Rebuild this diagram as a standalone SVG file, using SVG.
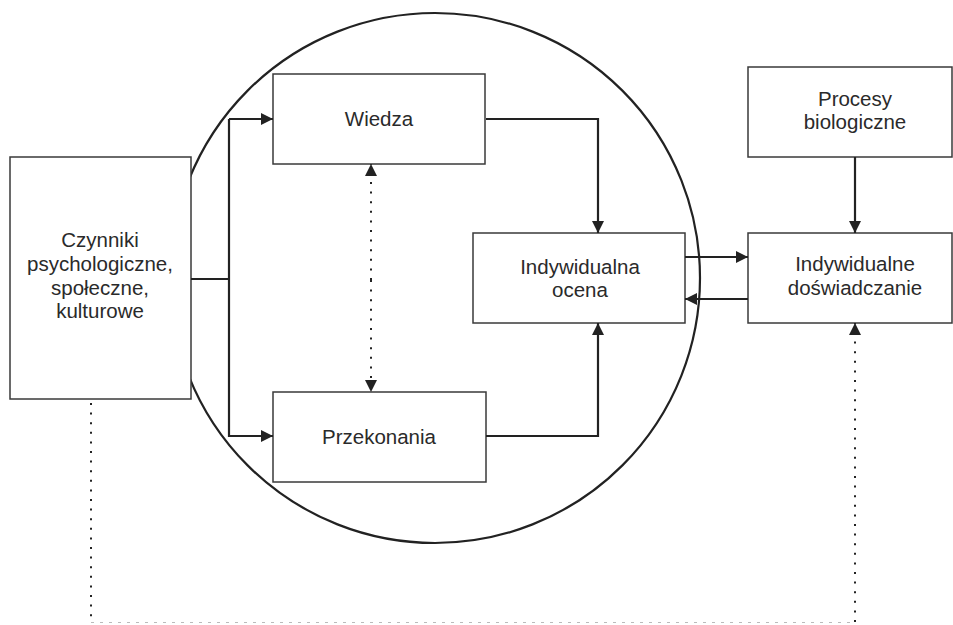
<svg xmlns="http://www.w3.org/2000/svg" width="953" height="625" viewBox="0 0 953 625">
<style>
.box{fill:#fff;stroke:#3a3a3a;stroke-width:1.5}
.lbl{font-family:"Liberation Sans",Arial,sans-serif;font-size:20.5px;fill:#2a2a2a;text-anchor:middle}
.ln{fill:none;stroke:#222;stroke-width:2.2}
.dot{fill:none;stroke:#222;stroke-width:2;stroke-dasharray:2 7.6}
.dotl{fill:none;stroke:#bbb;stroke-width:1.2;stroke-dasharray:3 6}
</style>
<defs>
<marker id="ah" markerUnits="userSpaceOnUse" markerWidth="14" markerHeight="14" refX="12" refY="6" orient="auto">
<path d="M0,0 L12,6 L0,12 Z" fill="#222"/>
</marker>
</defs>
<rect width="953" height="625" fill="#fff"/>
<circle cx="435" cy="278" r="265" fill="none" stroke="#222" stroke-width="2.2"/>
<g id="czynniki">
<rect class="box" x="10" y="157" width="181" height="242"/>
<text class="lbl"><tspan x="100" y="247">Czynniki</tspan><tspan x="100" y="271">psychologiczne,</tspan><tspan x="100" y="295">społeczne,</tspan><tspan x="100" y="318">kulturowe</tspan></text>
</g>
<g id="wiedza">
<rect class="box" x="273" y="74" width="212" height="90"/>
<text class="lbl" x="379" y="126">Wiedza</text>
</g>
<g id="przekonania">
<rect class="box" x="273" y="392" width="213" height="90"/>
<text class="lbl" x="379" y="444">Przekonania</text>
</g>
<g id="ocena">
<rect class="box" x="473" y="233" width="212" height="90"/>
<text class="lbl"><tspan x="580" y="274">Indywidualna</tspan><tspan x="580" y="297">ocena</tspan></text>
</g>
<g id="procesy">
<rect class="box" x="748" y="67" width="204" height="90"/>
<text class="lbl"><tspan x="855" y="106">Procesy</tspan><tspan x="855" y="129">biologiczne</tspan></text>
</g>
<g id="doswiadczanie">
<rect class="box" x="748" y="233" width="204" height="90"/>
<text class="lbl"><tspan x="855" y="271">Indywidualne</tspan><tspan x="855" y="295">doświadczanie</tspan></text>
</g>
<g id="connectors">
<path class="ln" d="M191,279 H229"/>
<path class="ln" d="M229,119 V437"/>
<path class="ln" d="M229,119 H273" marker-end="url(#ah)"/>
<path class="ln" d="M229,436 H273" marker-end="url(#ah)"/>
<path class="ln" d="M486,119 H598 V233" marker-end="url(#ah)"/>
<path class="ln" d="M486,436 H598 V323" marker-end="url(#ah)"/>
<path class="ln" d="M685,257 H748" marker-end="url(#ah)"/>
<path class="ln" d="M748,299 H685" marker-end="url(#ah)"/>
<path class="ln" d="M855,157 V233" marker-end="url(#ah)"/>
<path class="dot" d="M371,280 V164" marker-end="url(#ah)"/>
<path class="dot" d="M371,280 V392" marker-end="url(#ah)"/>
<path class="dot" d="M91,403 V622"/>
<path class="dotl" d="M91,622.5 H855"/>
<path class="dot" d="M855,622 V323" marker-end="url(#ah)"/>
</g>
</svg>
